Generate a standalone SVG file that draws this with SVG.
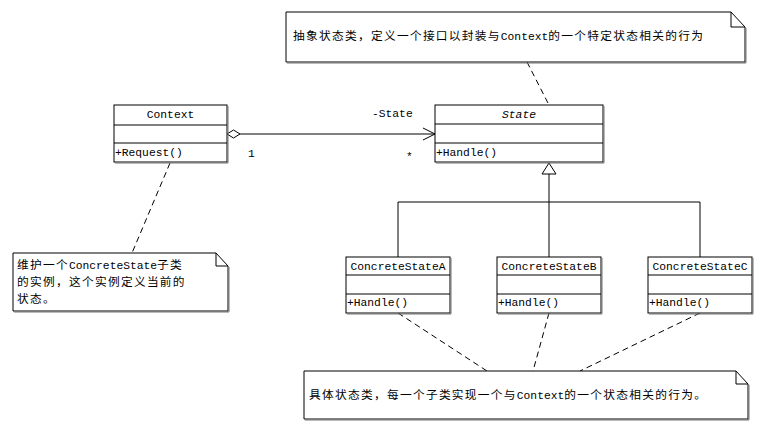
<svg xmlns="http://www.w3.org/2000/svg" width="778" height="433" viewBox="0 0 778 433">
<style>
.box{fill:#fff;stroke:#000;stroke-width:1}
.sh{fill:none;stroke:#777;stroke-width:1}
.ln{fill:none;stroke:#000;stroke-width:1}
.dash{fill:none;stroke:#000;stroke-width:1;stroke-dasharray:6 4}
.t{font-family:"Liberation Mono","Noto Sans CJK SC",monospace;font-size:11.3px;fill:#000}
.c{font-family:"Noto Sans CJK SC","Liberation Mono",sans-serif;font-size:11.7px;letter-spacing:1.3px;fill:#000}
.l{font-family:"Liberation Mono",monospace;font-size:11.3px;letter-spacing:0}
</style>
<rect width="778" height="433" fill="#fff"/>
<g id="connectors">
<path class="ln" d="M240,134 H435 M423,128 L435,134 L423,140"/>
<path class="box" d="M227,134 L233.5,130 L240,134 L233.5,138 Z"/>
<text class="t" x="372" y="117">-State</text>
<text class="t" x="248" y="157">1</text>
<text class="t" x="406" y="160">*</text>
<path class="box" d="M549,163 L556,174 L542,174 Z"/>
<path class="ln" d="M549,174 V202 M398,202 H700 M398,202 V257 M549,202 V257 M700,202 V257"/>
<path class="dash" d="M527,62 L549,105"/>
<path class="dash" d="M170,163 L132,253"/>
<path class="dash" d="M398,313 L487,371"/>
<path class="dash" d="M549,313 L533,371"/>
<path class="dash" d="M700,313 L580,371"/>
</g>
<g id="note-state">
<path class="box" d="M286,12 H731 L745,27 V62 H286 Z"/>
<path class="ln" d="M731,12 V27 H745"/>
<path class="sh" d="M287,63 H746 V28"/>
<text class="c" x="293" y="40">抽象状态类，定义一个接口以封装与<tspan class="l">Context</tspan>的一个特定状态相关的行为</text>
</g>
<g id="context">
<rect class="box" x="114" y="105" width="113" height="57"/>
<path class="ln" d="M114,125 H227 M114,143 H227"/>
<path class="sh" d="M115,163 H228 V106"/>
<text class="t" x="170.5" y="118" text-anchor="middle">Context</text>
<text class="t" x="115" y="156">+Request()</text>
</g>
<g id="state">
<rect class="box" x="435" y="105" width="168" height="57"/>
<path class="ln" d="M435,124 H603 M435,143 H603"/>
<path class="sh" d="M436,163 H604 V106"/>
<text class="t" x="519" y="118" text-anchor="middle" font-style="italic">State</text>
<text class="t" x="436" y="156">+Handle()</text>
</g>
<g id="concreteA">
<rect class="box" x="346" y="257" width="104" height="56"/>
<path class="ln" d="M346,275 H450 M346,294 H450"/>
<path class="sh" d="M347,314 H451 V258"/>
<text class="t" x="398" y="270" text-anchor="middle">ConcreteStateA</text>
<text class="t" x="347" y="306">+Handle()</text>
</g>
<g id="concreteB">
<rect class="box" x="497" y="257" width="104" height="56"/>
<path class="ln" d="M497,275 H601 M497,294 H601"/>
<path class="sh" d="M498,314 H602 V258"/>
<text class="t" x="549" y="270" text-anchor="middle">ConcreteStateB</text>
<text class="t" x="498" y="306">+Handle()</text>
</g>
<g id="concreteC">
<rect class="box" x="648" y="257" width="104" height="56"/>
<path class="ln" d="M648,275 H752 M648,294 H752"/>
<path class="sh" d="M649,314 H753 V258"/>
<text class="t" x="700" y="270" text-anchor="middle">ConcreteStateC</text>
<text class="t" x="649" y="306">+Handle()</text>
</g>
<g id="note-context">
<path class="box" d="M13,253 H216 L228,266 V311 H13 Z"/>
<path class="ln" d="M216,253 V266 H228"/>
<path class="sh" d="M14,312 H229 V267"/>
<text class="c" x="17" y="269">维护一个<tspan class="l">ConcreteState</tspan>子类</text>
<text class="c" x="17" y="286">的实例，这个实例定义当前的</text>
<text class="c" x="17" y="303">状态。</text>
</g>
<g id="note-concrete">
<path class="box" d="M304,371 H736 L748,384 V419 H304 Z"/>
<path class="ln" d="M736,371 V384 H748"/>
<path class="sh" d="M305,420 H749 V385"/>
<text class="c" x="309" y="399">具体状态类，每一个子类实现一个与<tspan class="l">Context</tspan>的一个状态相关的行为。</text>
</g>
</svg>
